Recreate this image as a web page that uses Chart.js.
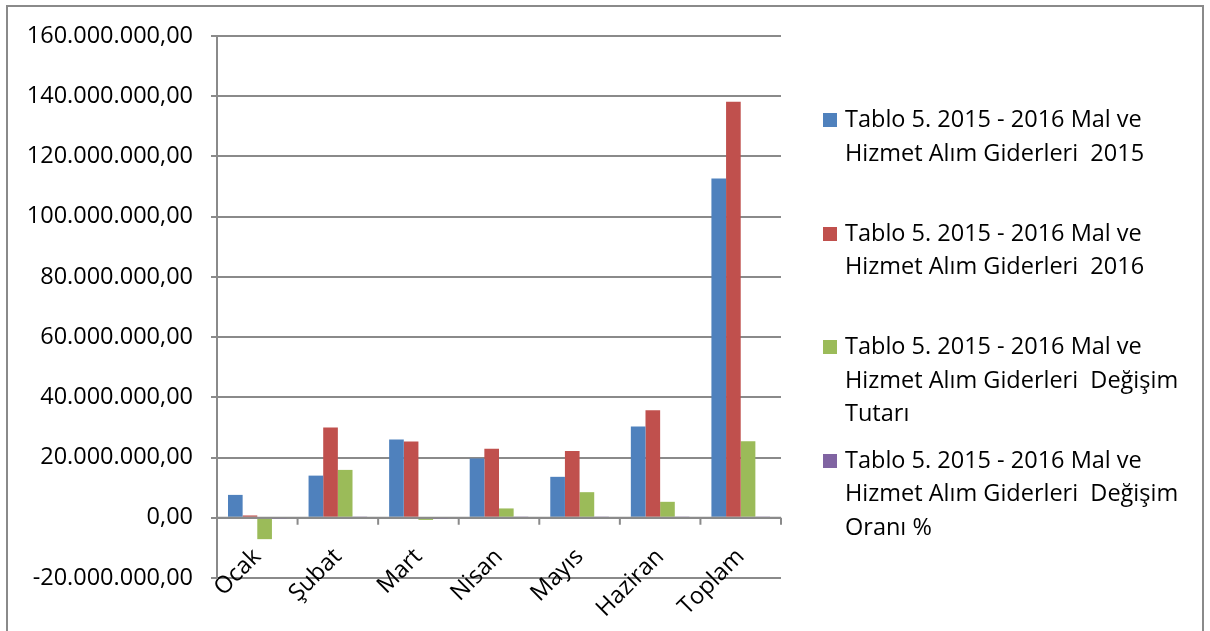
<!DOCTYPE html>
<html>
<head>
<meta charset="utf-8">
<script src="https://cdn.jsdelivr.net/npm/chart.js@4.4.0/dist/chart.umd.min.js"></script>
<style>
  html, body { margin: 0; padding: 0; background: #fff; overflow: hidden; }
  #wrap { position: relative; width: 1210px; height: 631px; }
  #frame { position: absolute; left: 6px; top: 5px; width: 1198px; height: 660px; border: 2px solid #8a8a8a; box-sizing: border-box; }
  canvas { position: absolute; left: 0; top: 0; }
  .leg { position: absolute; left: 823px; font-family: "Open Sans", sans-serif; font-size: 23.5px; line-height: 33.5px; color: #000; }
  .leg .box { position: absolute; left: 0; top: 11px; width: 14px; height: 14px; }
  .leg .txt { position: absolute; left: 22px; top: 0; white-space: pre; }
</style>
</head>
<body>
<div id="wrap">
  <div id="frame"></div>
  <canvas id="chart" width="1210" height="631"></canvas>
  <div id="legend"></div>
</div>
<script>
// categories
const months = ['Ocak', 'Şubat', 'Mart', 'Nisan', 'Mayıs', 'Haziran', 'Toplam'];

// series values (TL)
const giderler2015 = [7600000, 14000000, 26000000, 19700000, 13600000, 30300000, 112700000];
const giderler2016 = [770000, 30000000, 25300000, 22900000, 22200000, 35700000, 138200000];
const degisimTutari = [-7100000, 15900000, -700000, 3100000, 8500000, 5300000, 25400000];
const degisimOrani = [-90.8, 114.3, -2.7, 16.2, 63.2, 17.5, 22.6];

const seriesNames = [
  'Tablo 5. 2015 - 2016 Mal ve\nHizmet Alım Giderleri  2015',
  'Tablo 5. 2015 - 2016 Mal ve\nHizmet Alım Giderleri  2016',
  'Tablo 5. 2015 - 2016 Mal ve\nHizmet Alım Giderleri  Değişim\nTutarı',
  'Tablo 5. 2015 - 2016 Mal ve\nHizmet Alım Giderleri  Değişim\nOranı %'
];
const seriesColors = ['#4F81BD', '#C0504D', '#9BBB59', '#8064A2'];

// y axis range
const yMin = -20000000;
const yMax = 160000000;
const yStep = 20000000;

const gridColor = '#8a8a8a';
const tickFont = { family: 'Open Sans', size: 23.5 };

function formatTR(v) {
  const neg = v < 0;
  let s = Math.abs(Math.round(v)).toString();
  s = s.replace(/\B(?=(\d{3})+(?!\d))/g, '.');
  return (neg ? '-' : '') + s + ',00';
}

// zero axis with tick marks at category boundaries (Excel style)
const zeroAxis = {
  id: 'zeroAxis',
  afterDatasetsDraw(chart) {
    const { ctx, scales: { x, y } } = chart;
    const y0 = y.getPixelForValue(0);
    const n = months.length;
    const w = (x.right - x.left) / n;
    ctx.save();
    ctx.strokeStyle = gridColor;
    ctx.lineWidth = 2;
    ctx.beginPath();
    ctx.moveTo(x.left, y0);
    ctx.lineTo(x.right, y0);
    for (let i = 0; i <= n; i++) {
      const px = x.left + i * w;
      ctx.moveTo(px, y0);
      ctx.lineTo(px, y0 + 7);
    }
    ctx.stroke();
    ctx.restore();
  }
};

const datasets = [giderler2015, giderler2016, degisimTutari, degisimOrani].map((data, i) => ({
  label: seriesNames[i].replace(/\n/g, ' '),
  data: data,
  backgroundColor: seriesColors[i],
  borderWidth: 0,
  categoryPercentage: 4 / 5.5,
  barPercentage: 1
}));

new Chart(document.getElementById('chart').getContext('2d'), {
  type: 'bar',
  data: { labels: months, datasets: datasets },
  plugins: [zeroAxis],
  options: {
    responsive: false,
    animation: false,
    devicePixelRatio: 1,
    layout: { padding: { left: 0, top: 36, right: 429, bottom: 0 } },
    plugins: {
      legend: { display: false },
      tooltip: { enabled: false }
    },
    scales: {
      x: {
        grid: { display: false, drawTicks: false },
        border: { display: false },
        ticks: {
          color: '#000',
          font: tickFont,
          minRotation: 45,
          maxRotation: 45,
          padding: -35
        },
        afterFit(scale) {
          scale.height = 53;
          // labels sit partly above the axis box, so don't clip them
          scale._computeLabelArea = () => null;
        }
      },
      y: {
        min: yMin,
        max: yMax,
        grid: { color: gridColor, lineWidth: 2, tickLength: 6 },
        border: { color: gridColor, width: 2 },
        ticks: {
          stepSize: yStep,
          color: '#000',
          font: tickFont,
          padding: 18,
          callback: v => formatTR(v)
        },
        afterFit(scale) { scale.width = 217; }
      }
    }
  }
});

// legend on the right, one slot per series
const legend = document.getElementById('legend');
seriesNames.forEach((name, i) => {
  const item = document.createElement('div');
  item.className = 'leg';
  item.style.top = (102 + i * 113.5) + 'px';
  const box = document.createElement('div');
  box.className = 'box';
  box.style.background = seriesColors[i];
  const txt = document.createElement('div');
  txt.className = 'txt';
  txt.textContent = name;
  item.appendChild(box);
  item.appendChild(txt);
  legend.appendChild(item);
});
</script>
</body>
</html>
